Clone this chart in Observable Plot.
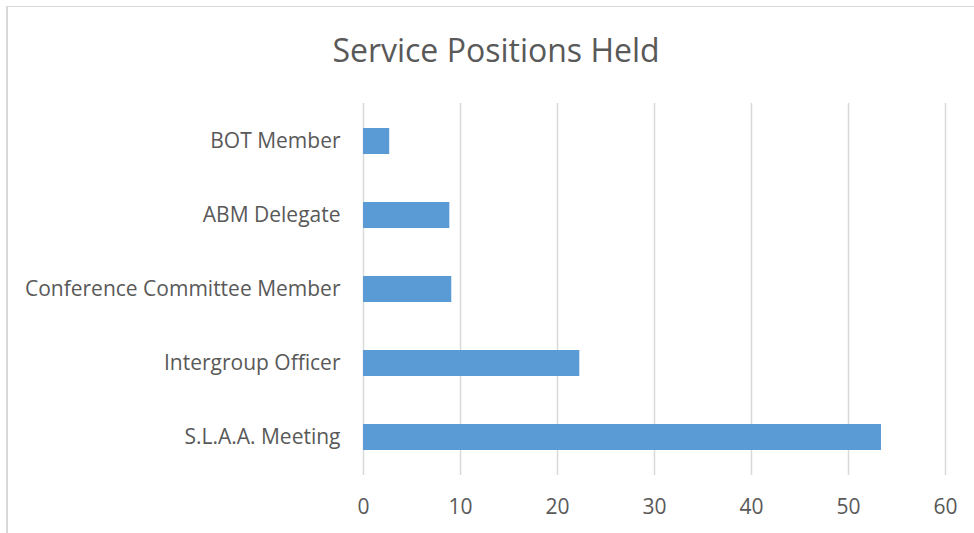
<!DOCTYPE html>
<html>
<head>
<meta charset="utf-8">
<script src="https://cdn.jsdelivr.net/npm/d3@7"></script>
<script src="https://cdn.jsdelivr.net/npm/@observablehq/plot@0.6"></script>
<style>
  html, body { margin: 0; padding: 0; background: #fff; overflow: hidden; }
  #frame {
    position: absolute; left: 6px; top: 6px; width: 966px; height: 526px;
    border-top: 1px solid #d9d9d9; border-left: 2px solid #d9d9d9;
    font-family: "Open Sans", sans-serif;
  }
  #title {
    height: 90px; line-height: 86px; text-align: center;
    font-size: 32px; color: #595959; position: relative; left: 5px;
  }
</style>
</head>
<body>
<div id="frame">
  <div id="title">Service Positions Held</div>
  <div id="chart"></div>
</div>
<script>
const categories = ["BOT Member", "ABM Delegate", "Conference Committee Member", "Intergroup Officer", "S.L.A.A. Meeting"];
const values = [2.7, 8.9, 9.1, 22.3, 53.4];
const xTicks = [0, 10, 20, 30, 40, 50, 60];

const data = categories.map((c, i) => ({category: c, value: values[i]}));

const chart = Plot.plot({
  width: 966,
  height: 436,
  marginTop: 6,
  marginBottom: 58,
  marginLeft: 355,
  marginRight: 29,
  style: {fontFamily: "Open Sans, sans-serif", fontSize: "20px", color: "#595959", background: "#fff"},
  x: {domain: [0, 60], ticks: xTicks, label: null},
  y: {domain: categories, paddingInner: 0.65, paddingOuter: 0.325, label: null},
  marks: [
    Plot.gridX(xTicks, {stroke: "#d9d9d9", strokeOpacity: 1, strokeWidth: 1.5}),
    Plot.barX(data, {x: "value", y: "category", fill: "#5b9bd5"}),
    Plot.axisX({ticks: xTicks, tickSize: 0, tickPadding: 24, fontSize: 21, fill: "#595959", label: null}),
    Plot.axisY({tickSize: 0, tickPadding: 23, fontSize: 21, fill: "#595959", label: null})
  ]
});
document.getElementById("chart").appendChild(chart);
</script>
</body>
</html>
